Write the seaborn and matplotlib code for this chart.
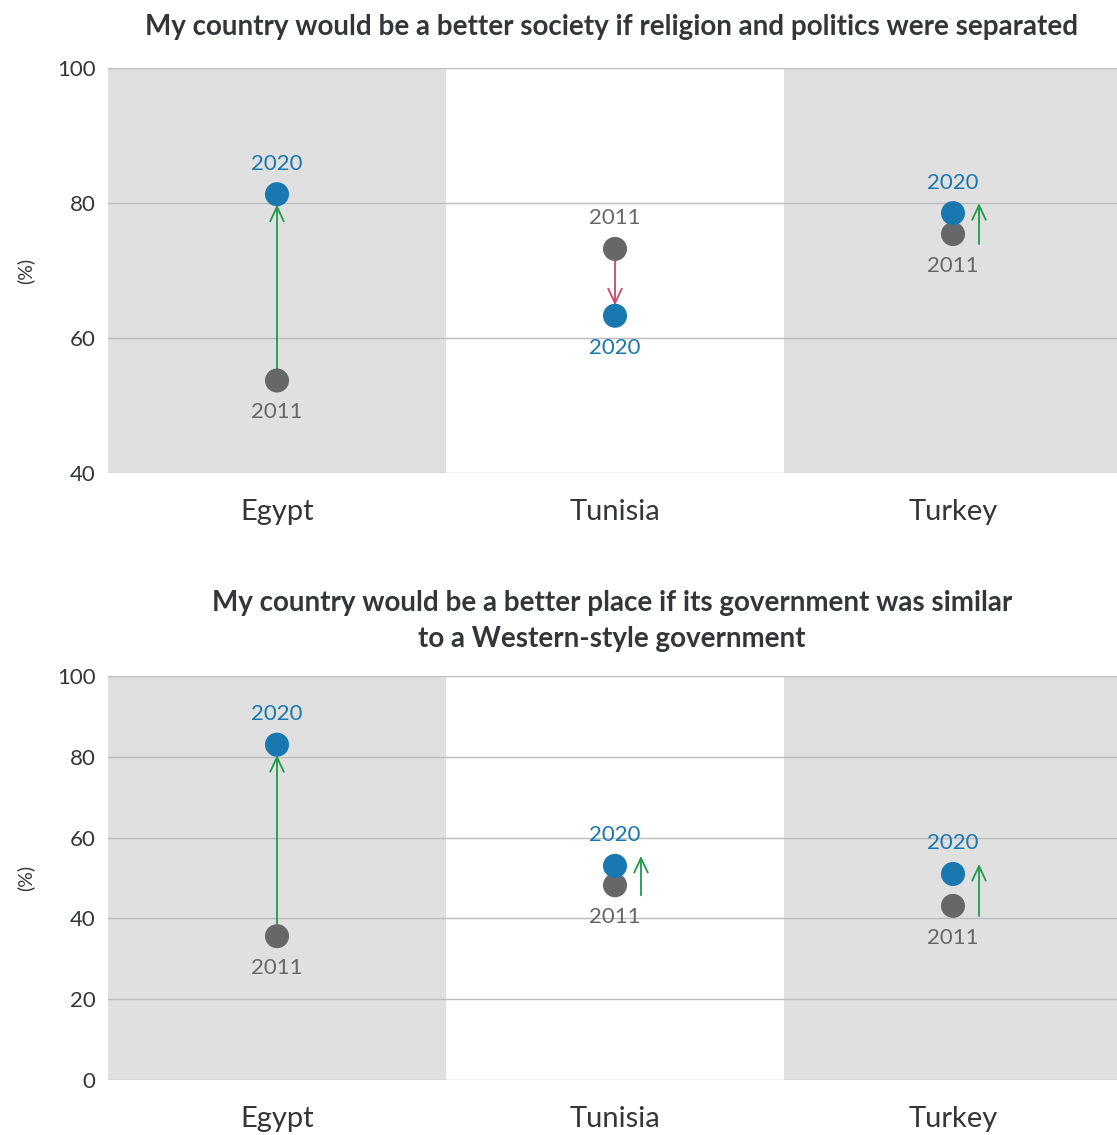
import matplotlib
matplotlib.use("Agg")
import matplotlib.pyplot as plt
import matplotlib.transforms as mtransforms
import seaborn as sns
import pandas as pd

# Survey results (% agreeing), 2011 vs 2020
countries = ["Egypt", "Tunisia", "Turkey"]
years = ["2011", "2020"]

secular_2011 = [53.7, 73.2, 75.4]
secular_2020 = [81.3, 63.3, 78.5]

western_2011 = [35.6, 48.2, 43.1]
western_2020 = [83.0, 53.0, 51.0]

title_top = "My country would be a better society if religion and politics were separated"
title_bottom = "My country would be a better place if its government was similar\nto a Western-style government"

C_2011 = "#666868"
C_2020 = "#1a78b0"
C_UP = "#1f9a4c"
C_DOWN = "#c9476b"
C_BAND = "#e0e0e0"
C_GRID = "#bcbcbc"
C_TEXT = "#333638"

sns.set_theme(style="white")
plt.rcParams["font.family"] = ["Lato", "DejaVu Sans"]

fig = plt.figure(figsize=(11.17, 11.35), dpi=100)
# plot area runs slightly past the right edge of the canvas
ax_top = fig.add_axes([108 / 1117, 1 - 473 / 1135, 1014 / 1117, 405 / 1135])
ax_bot = fig.add_axes([108 / 1117, 1 - 1080 / 1135, 1014 / 1117, 404 / 1135])


def px(n):
    # pixels -> inches for ScaledTranslation
    return n / 100.0


def draw_panel(ax, v2011, v2020, ylim, yticks):
    df = pd.DataFrame({
        "country": countries * 2,
        "pos": list(range(len(countries))) * 2,
        "year": ["2011"] * len(countries) + ["2020"] * len(countries),
        "value": list(v2011) + list(v2020),
    })

    ax.set_xlim(-0.5, len(countries) - 0.5)
    ax.set_ylim(*ylim)
    for i in range(len(countries)):
        if i % 2 == 0:
            ax.axvspan(i - 0.5, i + 0.5, color=C_BAND, lw=0, zorder=0)
    for t in yticks:
        ax.axhline(t, color=C_GRID, lw=1.0, zorder=1)

    # arrows from 2011 to 2020
    yrange_px = ax.get_position().height * fig.bbox.height
    for i, (a, b) in enumerate(zip(v2011, v2020)):
        color = C_UP if b > a else C_DOWN
        gap_px = abs(b - a) / (ylim[1] - ylim[0]) * yrange_px
        style = "->,head_length=0.75,head_width=0.35"
        if gap_px > 50:
            ax.annotate("", xy=(i, b), xytext=(i, a),
                        arrowprops=dict(arrowstyle=style, color=color, lw=1.3,
                                        shrinkA=0, shrinkB=7.5,
                                        mutation_scale=14),
                        zorder=2)
        else:
            sgn = 1 if b > a else -1
            head = ax.transData + mtransforms.ScaledTranslation(px(26), px(10 * sgn), fig.dpi_scale_trans)
            tail = ax.transData + mtransforms.ScaledTranslation(px(26), px(-10 * sgn), fig.dpi_scale_trans)
            ax.annotate("", xy=(i, b), xycoords=head, xytext=(i, a), textcoords=tail,
                        arrowprops=dict(arrowstyle=style, color=color, lw=1.3,
                                        shrinkA=0, shrinkB=0, mutation_scale=14),
                        zorder=2)

    sns.scatterplot(data=df, x="pos", y="value", hue="year",
                    palette={"2011": C_2011, "2020": C_2020},
                    s=300, linewidth=0, legend=False, ax=ax, zorder=3)

    # year labels above the higher dot and below the lower dot
    for i, (a, b) in enumerate(zip(v2011, v2020)):
        hi, lo = (("2020", b, C_2020), ("2011", a, C_2011)) if b > a else (("2011", a, C_2011), ("2020", b, C_2020))
        ax.annotate(hi[0], xy=(i, hi[1]), xytext=(0, 22), textcoords="offset points",
                    ha="center", va="center", color=hi[2], fontsize=16,
                    zorder=4)
        ax.annotate(lo[0], xy=(i, lo[1]), xytext=(0, -23), textcoords="offset points",
                    ha="center", va="center", color=lo[2], fontsize=16,
                    zorder=4)

    ax.set_xticks(range(len(countries)))
    ax.set_xticklabels(countries, fontsize=21, color=C_TEXT)
    ax.set_yticks(yticks)
    ax.set_yticklabels([str(t) for t in yticks], fontsize=16, color=C_TEXT)
    ax.tick_params(axis="both", length=0)
    ax.tick_params(axis="y", pad=9)
    ax.tick_params(axis="x", pad=19)
    ax.set_xlabel("")
    ax.set_ylabel("(%)", fontsize=14, color=C_TEXT, labelpad=16)
    for sp in ax.spines.values():
        sp.set_visible(False)
    ax.grid(False)


draw_panel(ax_top, secular_2011, secular_2020, (40, 100), [40, 60, 80, 100])
draw_panel(ax_bot, western_2011, western_2020, (0, 100), [0, 20, 40, 60, 80, 100])

fig.text(612 / 1117, 1 - 27 / 1135, title_top, ha="center", va="center",
         fontsize=20, fontweight="bold", color=C_TEXT)
fig.text(612 / 1117, 1 - 621 / 1135, title_bottom, ha="center", va="center",
         fontsize=20, fontweight="bold", color=C_TEXT, linespacing=1.5)

fig.savefig("out.png", dpi=100, facecolor="white")
